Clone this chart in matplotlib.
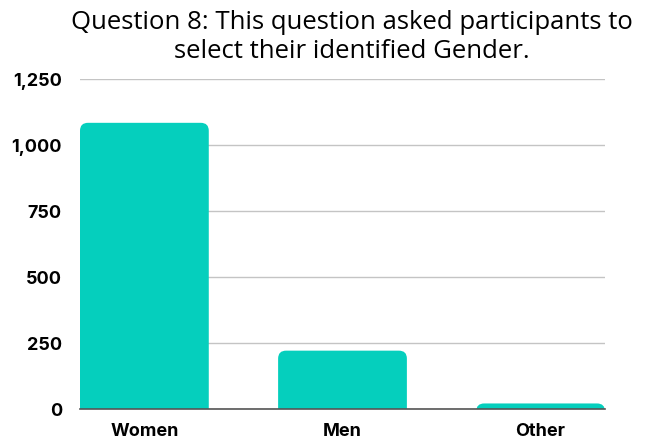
import matplotlib
matplotlib.use("Agg")
import matplotlib.pyplot as plt
from matplotlib.patches import FancyBboxPatch

categories = ["Women", "Men", "Other"]
values = [1084, 221, 21]
yticks = [0, 250, 500, 750, 1000, 1250]
ytick_labels = ["0", "250", "500", "750", "1,000", "1,250"]
title = "Question 8: This question asked participants to\nselect their identified Gender."

color = "#05CFBD"
fig = plt.figure(figsize=(6.52, 4.44), dpi=100)
ax = fig.add_axes([80/652, (444-409)/444, 525/652, 330/444])

bars = ax.bar(range(len(categories)), values, width=0.65, color=color, zorder=3)
ax.set_xlim(-0.325, len(categories) - 1 + 0.325)
ax.set_ylim(0, 1250)

# rounded corners
rx = 0.04
ry = 30
for b in bars:
    x, w, h = b.get_x(), b.get_width(), b.get_height()
    b.set_visible(False)
    p = FancyBboxPatch((x + rx, -ry * 2), w - 2 * rx, h + ry * 2 - ry,
                       boxstyle=f"round,pad={rx},rounding_size={rx}",
                       mutation_aspect=ry / rx, facecolor=color, edgecolor="none",
                       zorder=3, clip_on=True)
    ax.add_patch(p)

ax.set_yticks(yticks)
ax.set_yticklabels(ytick_labels, fontsize=13, fontweight="bold", family="Inter")
ax.set_xticks(range(len(categories)))
ax.set_xticklabels(categories, fontsize=13, fontweight="bold", family="Inter")
ax.tick_params(axis="both", length=0)
ax.tick_params(axis="y", pad=13)
ax.tick_params(axis="x", pad=10)
ax.grid(axis="y", color="#c4c4c4", linewidth=1, zorder=0)
for s in ["top", "right", "left"]:
    ax.spines[s].set_visible(False)
ax.spines["bottom"].set_color("#555555")
ax.spines["bottom"].set_linewidth(1.2)
ax.spines["bottom"].set_zorder(4)

fig.text(352/652, 1 - 10/444, title, ha="center", va="top", fontsize=18.5,
         family="Open Sans", linespacing=1.22)

fig.savefig("out.png", dpi=100)
